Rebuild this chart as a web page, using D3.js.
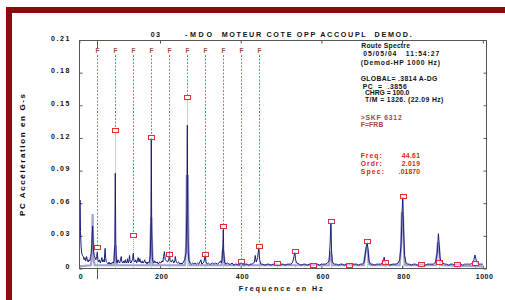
<!DOCTYPE html>
<html><head><meta charset="utf-8">
<script src="https://cdn.jsdelivr.net/npm/d3@7"></script>
<style>body{margin:0;background:#fff}svg{display:block}text{font-family:"Liberation Sans",Arial,sans-serif}</style>
</head><body><svg id="c" width="505" height="300"></svg>
<script>
const yTicks = [0, 0.03, 0.06, 0.09, 0.12, 0.15, 0.18, 0.21];
const xTicks = [0, 200, 400, 600, 800, 1000];
const harmonicHz = [44.61, 89.2, 133.8, 178.4, 223.1, 267.7, 312.3, 356.9, 401.5, 446.1, 490.7, 535.3, 579.9, 624.5, 669.2, 713.8, 758.4, 803.0, 847.6, 892.2, 936.8, 981.4];
const harmonicMark = [0.0187, 0.1264, 0.0295, 0.12, 0.0124, 0.1567, 0.0124, 0.0378, 0.006, 0.02, 0.0041, 0.0154, 0.0026, 0.0427, 0.0023, 0.0246, 0.0048, 0.0656, 0.0032, 0.0053, 0.0032, 0.0039];
const fLabelCount = 10;
const cursorHz = 44.61;
const spectrum = [[0,0.005],[1,0.035],[1.8,0.063],[3,0.034],[4.5,0.02],[6,0.014],[8,0.012],[10,0.011],[12,0.008],[14,0.01],[16,0.007],[18,0.011],[20,0.008],[22,0.006],[24,0.008],[26,0.007],[28,0.011],[29.5,0.014],[31,0.022],[33,0.039],[35,0.016],[37,0.012],[39,0.01],[41,0.008],[43,0.011],[44.6,0.015],[46,0.008],[48,0.006],[50,0.008],[52,0.005],[54,0.007],[56,0.01],[58,0.006],[60,0.008],[62,0.006],[63,0.014],[64,0.0185],[65.5,0.009],[67,0.006],[70,0.005],[72,0.004],[74,0.006],[76,0.004],[78,0.005],[80,0.004],[82,0.006],[84,0.005],[86,0.007],[88,0.022],[89.2,0.0876],[90.5,0.022],[92,0.007],[94,0.005],[96,0.008],[98,0.006],[100,0.005],[102,0.008],[104,0.011],[105.5,0.006],[108,0.005],[110,0.007],[112,0.005],[114,0.008],[116,0.005],[118,0.006],[119.5,0.009],[121,0.005],[123,0.007],[124.5,0.012],[126,0.006],[128,0.005],[130,0.007],[132,0.008],[133.8,0.014],[135.5,0.007],[138,0.006],[140,0.008],[142,0.005],[144,0.007],[146,0.01],[148,0.006],[150,0.009],[152,0.006],[154,0.005],[156,0.007],[158,0.005],[160,0.006],[162,0.008],[164,0.005],[166,0.006],[168,0.004],[170,0.006],[172,0.005],[174,0.007],[176,0.012],[177.5,0.042],[178.4,0.12],[179.5,0.032],[181,0.01],[183,0.006],[185,0.005],[187,0.007],[190,0.005],[193,0.006],[196,0.004],[199,0.006],[202,0.005],[205,0.007],[207,0.006],[209,0.011],[211,0.0154],[213,0.008],[216,0.007],[219,0.006],[222,0.009],[223.5,0.014],[225,0.007],[228,0.006],[231,0.008],[234,0.005],[236.5,0.007],[238,0.011],[240,0.006],[243,0.005],[246,0.006],[249,0.004],[252,0.005],[255,0.004],[258,0.006],[261,0.008],[264.5,0.014],[266.5,0.052],[267.7,0.1317],[268.8,0.052],[270,0.014],[272,0.007],[275,0.005],[278,0.004],[281,0.005],[284,0.004],[287,0.005],[290,0.004],[293,0.005],[296,0.004],[299,0.006],[301.5,0.008],[303.5,0.004],[306,0.005],[309,0.006],[312.3,0.013],[314,0.006],[317,0.004],[320,0.005],[323,0.004],[326,0.004],[330,0.005],[334,0.004],[338,0.005],[342,0.004],[346,0.005],[350,0.007],[352,0.005],[354,0.008],[355.8,0.022],[356.9,0.036],[358,0.014],[360,0.006],[363,0.004],[367,0.005],[371,0.004],[375,0.004],[379,0.005],[383,0.003],[387,0.004],[391,0.004],[395,0.003],[399,0.004],[401.5,0.006],[404,0.004],[408,0.003],[412,0.004],[416,0.004],[420,0.003],[424,0.004],[428,0.004],[432,0.005],[434,0.006],[436,0.012],[438.5,0.006],[442,0.01],[444.8,0.0195],[447,0.008],[450,0.004],[455,0.004],[460,0.003],[465,0.004],[470,0.004],[475,0.003],[480,0.004],[485,0.004],[490,0.004],[495,0.003],[500,0.004],[505,0.004],[510,0.003],[515,0.004],[520,0.004],[525,0.004],[529,0.006],[532,0.011],[534,0.0149],[536,0.008],[539,0.005],[545,0.004],[550,0.003],[555,0.004],[560,0.004],[565,0.003],[570,0.004],[575,0.004],[580,0.003],[585,0.004],[590,0.004],[595,0.003],[600,0.004],[605,0.004],[610,0.004],[615,0.005],[619,0.007],[621.5,0.022],[623.5,0.042],[625,0.017],[627,0.006],[632,0.004],[637,0.004],[642,0.003],[647,0.004],[652,0.004],[657,0.003],[662,0.004],[667,0.004],[672,0.003],[677,0.004],[682,0.004],[687,0.004],[692,0.003],[697,0.004],[702,0.004],[706,0.006],[709,0.014],[711,0.02],[713.5,0.0237],[715.5,0.018],[718,0.007],[722,0.004],[727,0.004],[732,0.003],[737,0.004],[742,0.004],[747,0.004],[751,0.005],[753.5,0.006],[755.5,0.0103],[757.5,0.006],[760,0.004],[765,0.004],[770,0.003],[775,0.004],[780,0.004],[785,0.004],[790,0.005],[794,0.008],[797.5,0.022],[800,0.052],[801.5,0.0656],[803.5,0.037],[806,0.012],[809,0.006],[813,0.004],[818,0.004],[823,0.003],[828,0.004],[833,0.004],[838,0.003],[843,0.004],[848,0.004],[853,0.004],[858,0.003],[863,0.004],[868,0.004],[873,0.004],[878,0.004],[883,0.006],[887,0.014],[890,0.032],[892,0.022],[894,0.01],[897,0.006],[901,0.005],[906,0.004],[910,0.004],[915,0.003],[920,0.004],[925,0.004],[930,0.003],[935,0.004],[940,0.004],[945,0.004],[950,0.003],[955,0.004],[960,0.004],[965,0.004],[970,0.004],[975,0.005],[978,0.008],[980.5,0.0124],[982.5,0.009],[986,0.005],[990,0.004],[995,0.004],[1000,0.004]];
const envelope = [[0,0.002],[29,0.003],[31,0.012],[33,0.05],[35,0.01],[38,0.003],[86,0.003],[88,0.016],[89.2,0.022],[90.5,0.014],[93,0.003],[175,0.003],[177,0.032],[178.4,0.047],[180,0.027],[182,0.003],[262,0.003],[265,0.022],[266.3,0.085],[269,0.085],[270.5,0.022],[273,0.003],[353,0.003],[355.5,0.017],[358,0.014],[360,0.003],[619,0.003],[622,0.014],[625,0.012],[627,0.003],[705,0.003],[709,0.014],[712,0.019],[715,0.017],[718,0.004],[722,0.003],[794,0.003],[797,0.017],[799.5,0.052],[802.5,0.047],[805,0.014],[808,0.003],[884,0.003],[887,0.017],[889,0.024],[891.5,0.02],[894,0.005],[897,0.003],[1000,0.002]];
const infoLines = ["Route Spectre", "05/05/04   11:54:27", "(Demod-HP 1000 Hz)", "GLOBAL= .3814 A-DG", "PC  =  .3856", "CHRG = 100.0", "T/M = 1326. (22.09 Hz)", ">SKF 6312", "F=FRB", "Freq:", "Ordr:", "Spec:", "44.61", "2.019", ".01870"];
const infoColorGroup = ["k","k","k","k","k","k","k","b","b","r","r","r","r","r","r"];

const svg = d3.select("#c");
svg.append("rect").attr("width",505).attr("height",300).attr("fill","#fff");
svg.append("rect").attr("x",6).attr("y",7).attr("width",499).attr("height",6).attr("fill","#8a0c0c");
svg.append("rect").attr("x",6).attr("y",7).attr("width",6).attr("height",293).attr("fill","#8a0c0c");

const L=79, R=486, T=40, B=268.5;
const x = d3.scaleLinear().domain([0,1000]).range([79.3,482.8]);
const y = d3.scaleLinear().domain([0,0.21]).range([B,T]);

svg.append("defs").append("clipPath").attr("id","cp").append("rect").attr("x",L).attr("y",T).attr("width",R-L).attr("height",B-T);
const axColor = "#555";

function styleAxis(g){ g.select(".domain").remove(); g.selectAll(".tick line").attr("stroke",axColor); g.selectAll("text").attr("font-size",7).attr("font-weight","bold").attr("fill","#111").attr("font-family","'Liberation Sans',Arial,sans-serif"); }
const gl = svg.append("g").attr("transform",`translate(${L+0.5},0)`).call(d3.axisLeft(y).tickValues(yTicks).tickSize(-3).tickPadding(10).tickFormat(d=>d===0?"0":d.toFixed(2))).call(styleAxis);
gl.selectAll("text").attr("dy","0.02em").each(function(d){ if(d!==0) d3.select(this).attr("textLength",18.5).attr("lengthAdjust","spacing"); });
svg.append("g").attr("transform",`translate(${R+0.5},0)`).call(d3.axisRight(y).tickValues(yTicks).tickSize(-3).tickFormat("")).call(styleAxis);
const gb = svg.append("g").attr("transform",`translate(0,${B})`).call(d3.axisBottom(x).tickValues(xTicks).tickSize(-3).tickPadding(6).tickFormat(d3.format("d"))).call(styleAxis);
gb.selectAll("text").attr("dx",1).each(function(d){ const s=String(d); if(s.length>1) d3.select(this).attr("textLength",s.length*4.3).attr("lengthAdjust","spacing"); });
svg.append("g").attr("transform",`translate(0,${T+0.5})`).call(d3.axisTop(x).tickValues(xTicks).tickSize(-3).tickFormat("")).call(styleAxis);

const hData = harmonicHz.map((f,i)=>({f, v:harmonicMark[i], k:i+1}));
const hx = d=>Math.round(x(d.f))+0.5;
svg.selectAll("line.hdash").data(hData.filter(d=>d.k<=fLabelCount)).join("line").attr("class","hdash")
  .attr("x1",hx).attr("x2",hx).attr("y1",55).attr("y2",d=>y(d.v)-2.5)
  .attr("stroke","#b84a4a").attr("stroke-width",0.8).attr("stroke-dasharray","2,1.5");
svg.selectAll("line.hdot").data(hData).join("line").attr("class","hdot")
  .attr("x1",hx).attr("x2",hx).attr("y1",d=>y(d.v)+2.5).attr("y2",B-0.5)
  .attr("stroke","#6cc06c").attr("stroke-width",0.9).attr("stroke-dasharray","1,1");

const plot = svg.append("g").attr("clip-path","url(#cp)");
const line = d3.line().x(d=>x(d[0])).y(d=>y(d[1]));
plot.append("path").datum(envelope).attr("d",line).attr("fill","none").attr("stroke","#a3a3cf").attr("stroke-width",2.2);
plot.append("path").datum(spectrum).attr("d",line).attr("fill","none").attr("stroke","#1c1c7c").attr("stroke-width",1);

svg.append("rect").attr("x",L+0.5).attr("y",T+0.5).attr("width",R-L).attr("height",B-T-0.5).attr("fill","none").attr("stroke",axColor).attr("stroke-width",1);

svg.selectAll("text.hF").data(hData.filter(d=>d.k<=fLabelCount)).join("text").attr("class","hF")
  .attr("x",hx).attr("y",53).attr("text-anchor","middle")
  .attr("font-size",6.5).attr("font-weight","bold").attr("fill","#b04848").text("F");
svg.selectAll("rect.hsq").data(hData).join("rect").attr("class","hsq")
  .attr("x",d=>Math.round(x(d.f))-2.5).attr("y",d=>Math.round(y(d.v))-2.5).attr("width",6).attr("height",4)
  .attr("fill","#fff").attr("fill-opacity",0.6).attr("stroke","#e03030").attr("stroke-width",1);

const cx = Math.round(x(cursorHz))+0.5;
svg.append("line").attr("x1",cx).attr("x2",cx).attr("y1",T).attr("y2",48).attr("stroke","#cc2222").attr("stroke-width",1);
svg.append("line").attr("x1",cx).attr("x2",cx).attr("y1",B).attr("y2",279).attr("stroke","#cc2222").attr("stroke-width",1);

function txt(str, x0, x1, yc, color, size, g){
  return (g||svg).append("text").attr("x",x0).attr("y",yc+size*0.36).attr("font-size",size).attr("font-weight","bold")
    .attr("fill",color).style("white-space","pre").attr("textLength",x1-x0).attr("lengthAdjust","spacing").text(str);
}
txt("03",150.7,160,34.3,"#111",7.2);
txt("-MDO",185,212,34.3,"#111",7.2);
txt("MOTEUR COTE OPP ACCOUPL  DEMOD.",221.7,411.7,34.3,"#111",7.2);

const colors = {k:"#111", b:"#a04848", r:"#e02020"};
const infoX = [[361.3,410],[363.3,439.3],[360.7,440],[360.7,437.3],[362.7,406.7],[365,409.3],[365,443.3],[360.7,401.7],[360.7,383.3],[360.7,381.7],[360.7,381.7],[360.7,384],[401.7,420],[401.7,420],[398.7,420]];
const infoY = [45.7,54,62.3,78.7,86.3,93,100,117.3,125,156,163.7,171.3,156,163.7,171.3];
infoLines.forEach((t,i)=>txt(t, infoX[i][0], infoX[i][1], infoY[i], colors[infoColorGroup[i]], 6.8));

txt("Frequence en Hz",238.7,322.7,288.3,"#111",7.2);
svg.append("text").attr("transform","translate(24.5,155) rotate(-90)").attr("text-anchor","middle").attr("font-size",8).attr("font-weight","bold")
  .attr("textLength",122).attr("lengthAdjust","spacing").text("PC Accélération en G-s");
</script></body></html>
